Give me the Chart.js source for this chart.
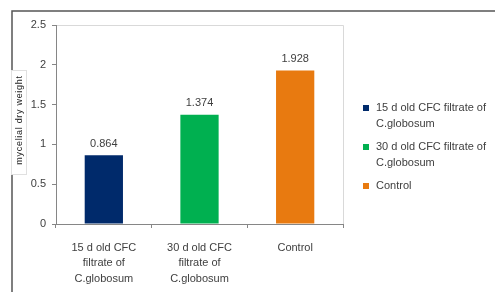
<!DOCTYPE html>
<html lang="en">
<head>
<meta charset="UTF-8" />
<title>Mycelial dry weight</title>
<script src="https://cdn.jsdelivr.net/npm/chart.js"></script>
<style>
  html, body { margin: 0; padding: 0; background: #fff; }
  canvas { display: block; }
</style>
</head>
<body>
<canvas id="chart" width="495" height="292"></canvas>
<script>
// data
const categories = [
  ["15 d old CFC", "filtrate of", "C.globosum"],
  ["30 d old CFC", "filtrate of", "C.globosum"],
  ["Control"]
];
const legendLabels = [
  ["15 d old CFC filtrate of", "C.globosum"],
  ["30 d old CFC filtrate of", "C.globosum"],
  ["Control"]
];
const weights = [0.864, 1.374, 1.928];
const barColors = ["#002A6B", "#00B050", "#E87A10"];
const yTicks = [0, 0.5, 1, 1.5, 2, 2.5];
const yTitle = "mycelial dry weight";

const FONT = "'Liberation Sans', Arial, sans-serif";
const TEXT = "#404040";
const AXIS = "#868686";

// outer frame + plot border
const framePlugin = {
  id: "frame",
  beforeDraw(chart) {
    const c = chart.ctx;
    c.save();
    c.fillStyle = "#fff";
    c.fillRect(0, 0, chart.width, chart.height);
    c.strokeStyle = "#555";
    c.lineWidth = 1.5;
    c.beginPath();
    c.moveTo(12, chart.height);
    c.lineTo(12, 11);
    c.lineTo(chart.width, 11);
    c.stroke();
    const a = chart.chartArea;
    c.strokeStyle = "#d9d9d9";
    c.lineWidth = 1;
    c.beginPath();
    c.moveTo(a.left, a.top + 0.5);
    c.lineTo(a.right + 0.5, a.top + 0.5);
    c.lineTo(a.right + 0.5, a.bottom);
    c.stroke();
    c.restore();
  }
};

// value labels above bars
const valuePlugin = {
  id: "values",
  afterDatasetsDraw(chart) {
    const c = chart.ctx;
    const meta = chart.getDatasetMeta(0);
    c.save();
    c.font = "11px " + FONT;
    c.fillStyle = TEXT;
    c.textAlign = "center";
    c.textBaseline = "bottom";
    meta.data.forEach((bar, i) => {
      c.fillText(String(weights[i]), bar.x, bar.y - 6);
    });
    c.restore();
  }
};

// legend on the right + boxed y title
const sidePlugin = {
  id: "side",
  afterDraw(chart) {
    const c = chart.ctx;
    c.save();
    c.font = "11px " + FONT;
    c.textBaseline = "middle";
    c.textAlign = "left";
    let y = 108;
    legendLabels.forEach((lines, i) => {
      c.fillStyle = barColors[i];
      c.fillRect(363, y - 3, 6, 6);
      c.fillStyle = TEXT;
      lines.forEach((ln, j) => {
        c.fillText(ln, 376, y + j * 16);
      });
      y += lines.length * 16 + 7;
    });

    // y title box
    c.fillStyle = "#fff";
    c.fillRect(11, 70, 16, 105);
    c.strokeStyle = "#e0e0e0";
    c.lineWidth = 1;
    c.strokeRect(11.5, 70.5, 15, 104);
    c.translate(20, 120);
    c.rotate(-Math.PI / 2);
    c.font = "9px " + FONT;
    c.letterSpacing = "0.7px";
    c.fillStyle = "#222";
    c.textAlign = "center";
    c.textBaseline = "middle";
    c.fillText(yTitle, 0, 0);
    c.restore();
  }
};

new Chart(document.getElementById("chart"), {
  type: "bar",
  data: {
    labels: categories,
    datasets: [{
      data: weights,
      backgroundColor: barColors,
      borderWidth: 0,
      categoryPercentage: 1,
      barPercentage: 0.4
    }]
  },
  options: {
    responsive: false,
    animation: false,
    layout: { padding: { left: 0, top: 25, right: 152, bottom: 0 } },
    plugins: {
      legend: { display: false },
      tooltip: { enabled: false }
    },
    scales: {
      x: {
        afterFit(scale) { scale.height = 68; },
        border: { color: AXIS },
        grid: { offset: true, drawOnChartArea: false, tickLength: 4, color: AXIS },
        ticks: {
          color: TEXT,
          font: { family: FONT, size: 11, lineHeight: 1.42 },
          padding: 12,
          maxRotation: 0,
          autoSkip: false
        }
      },
      y: {
        min: 0,
        max: 2.5,
        afterFit(scale) { scale.width = 56; },
        afterBuildTicks(scale) { scale.ticks = yTicks.map(v => ({ value: v })); },
        border: { color: AXIS },
        grid: { drawOnChartArea: false, tickLength: 4, color: AXIS },
        ticks: {
          color: TEXT,
          font: { family: FONT, size: 11 },
          padding: 6,
          callback: v => String(v)
        }
      }
    }
  },
  plugins: [framePlugin, valuePlugin, sidePlugin]
});
</script>
</body>
</html>
